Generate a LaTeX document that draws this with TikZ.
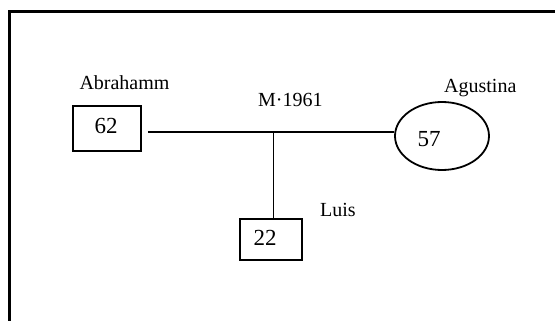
\documentclass[tikz,border=0pt]{standalone}
\usepackage{fontspec}
\setmainfont{Liberation Serif}
\usetikzlibrary{shapes.geometric}
\begin{document}
\begin{tikzpicture}[x=1pt,y=-1pt,
  personbox/.style={draw,line width=1.8pt,inner sep=0pt},
  personoval/.style={draw,ellipse,line width=1.8pt,inner sep=0pt,minimum width=94pt,minimum height=68pt},
  namelabel/.style={anchor=base west,inner sep=0pt,font=\fontsize{20pt}{22pt}\selectfont},
  agelabel/.style={anchor=base,inner sep=0pt,font=\fontsize{23pt}{25pt}\selectfont},
  link/.style={line width=1.8pt}]
\useasboundingbox (0,0) rectangle (555,321);
% frame (cropped: only left and top edges show)
\draw[line width=2.4pt] (9.5,321) -- (9.5,11.7) -- (555,11.7);
% persons
\node[personbox,minimum width=68.3pt,minimum height=45.3pt] (abr) at (106.85,128.35) {};
\node[personoval] (agu) at (442,136) {};
\node[personbox,minimum width=62pt,minimum height=41pt] (lui) at (271,239.5) {};
% ages
\node[agelabel] (a62) at (106,133.3) {62};
\node[agelabel] (a57) at (429,146.7) {57};
\node[agelabel] (a22) at (265,245) {22};
% names
\node[namelabel] (nabr) at (79.3,90) {Abrahamm};
\node[namelabel] (nagu) at (444,92.5) {Agustina};
\node[namelabel] (nmar) at (258,106.7) {M·1961};
\node[namelabel] (nlui) at (320,216) {Luis};
% connectors
\coordinate (j) at (273.5,131.7);
\draw[link,shorten <=6pt] (abr.east |- j) -- (agu.west |- j);
\draw[link] (j) -- (j |- lui.north);
\end{tikzpicture}
\end{document}
